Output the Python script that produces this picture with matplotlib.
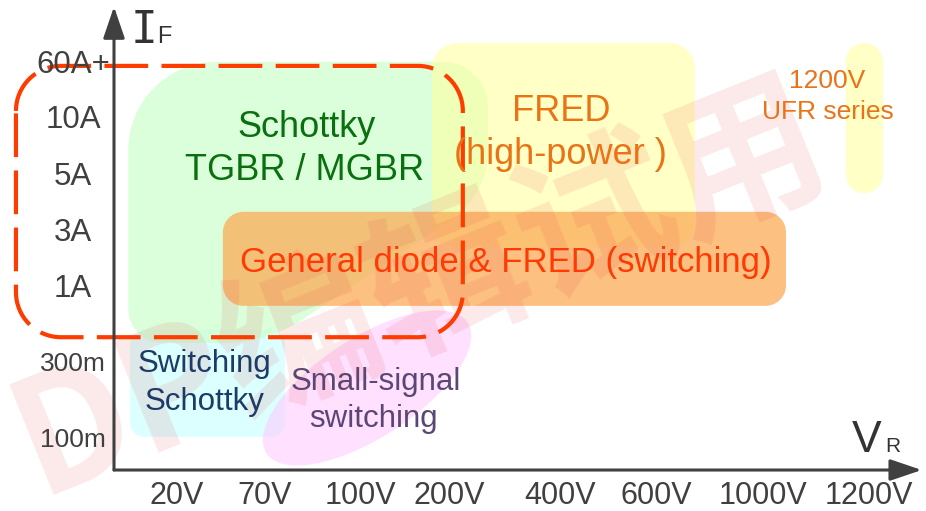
import numpy as np
import matplotlib
matplotlib.use('Agg')
import matplotlib.pyplot as plt
from matplotlib.path import Path
from matplotlib.patches import PathPatch, Ellipse

# ----------------
# DATA
# ----------------

# reverse voltage categories (x axis) and forward current categories (y axis)
vr_labels = ['20V', '70V', '100V', '200V', '400V', '600V', '1000V', '1200V']
vr_pos = [1.10, 2.64, 4.32, 5.88, 7.82, 9.52, 11.39, 13.25]
if_labels = ['100m', '300m', '1A', '3A', '5A', '10A', '60A+']
if_pos = [0.41, 1.74, 3.03, 4.02, 5.0, 6.0, 6.97]

# product regions, as (x0, x1, y0, y1) in axis units
sw_schottky_box = (0.28, 3.0, 0.58, 2.46)
fred_hp_box = (5.58, 10.19, 3.91, 7.49)
ufr_box = (12.84, 13.49, 4.86, 7.49)
general_box = (1.91, 11.79, 2.88, 4.53)
focus_box = (-1.72, 6.12, 2.33, 7.09)
# schottky blob outline (corners) and corner radii
schottky_pts = [(0.25, 7.16), (6.56, 7.16), (6.56, 4.83), (2.70, 2.23), (0.25, 2.23)]
schottky_r = [1.55, 0.79, 0.70, 0.70, 0.60]
# small-signal ellipse: centre, width, height, angle
small_sig = ((4.44, 1.44), 4.21, 1.75, 33)

AX = '#404040'


def rounded_path(pts, radii):
    k = 0.5523
    verts, codes = [], []
    n = len(pts)
    for i in range(n):
        p = np.array(pts[i], float)
        prev = np.array(pts[i - 1], float)
        nxt = np.array(pts[(i + 1) % n], float)
        d1 = prev - p
        d2 = nxt - p
        l1, l2 = np.hypot(*d1), np.hypot(*d2)
        r = min(radii[i], l1 / 2, l2 / 2)
        a = p + d1 / l1 * r
        b = p + d2 / l2 * r
        verts.append(a)
        codes.append(Path.MOVETO if i == 0 else Path.LINETO)
        verts += [a + (p - a) * k, b + (p - b) * k, b]
        codes += [Path.CURVE4] * 3
    verts.append(verts[0])
    codes.append(Path.CLOSEPOLY)
    return Path(verts, codes)


def box_path(box, r):
    x0, x1, y0, y1 = box
    return rounded_path([(x0, y1), (x1, y1), (x1, y0), (x0, y0)], [r] * 4)


fig = plt.figure(figsize=(9.26, 5.11), dpi=100)
ax = fig.add_axes([0, 0, 1, 1])
ax.set_xlim(-2.0, 14.246)
ax.set_ylim(-0.719, 8.246)
ax.axis('off')

# regions
ax.add_patch(PathPatch(box_path(sw_schottky_box, 0.26), fc='#dcffff', ec='none', zorder=1))
ax.add_patch(PathPatch(rounded_path(schottky_pts, schottky_r), fc='#ccffcc', alpha=0.7,
                       ec='none', zorder=1.2))
ax.add_patch(Ellipse(small_sig[0], small_sig[1], small_sig[2], angle=small_sig[3],
                     fc='#ffccff', alpha=0.6, ec='none', zorder=1.3))
ax.add_patch(PathPatch(box_path(fred_hp_box, 0.44), fc='#ffffa0', alpha=0.6, ec='none', zorder=1.4))
ax.add_patch(PathPatch(box_path(ufr_box, 0.32), fc='#ffffa0', alpha=0.6, ec='none', zorder=1.4))
ax.add_patch(PathPatch(box_path(general_box, 0.36), fc='#fbab56', alpha=0.75, ec='none', zorder=1.5))

# watermark
ax.text(5.37, 3.16, 'DP编辑试用', rotation=22, rotation_mode='anchor', fontsize=115,
        fontweight='bold', family=['Noto Sans CJK SC', 'DejaVu Sans'], color='#e85050',
        alpha=0.13, ha='center', va='center', zorder=2)

# dashed focus frame
ax.add_patch(PathPatch(box_path(focus_box, 0.79), fc='none', ec='#ff3c00', lw=3,
                       linestyle=(0, (10.5, 3.2)), zorder=3))

# axes with arrows
arrow = dict(arrowstyle='-|>,head_length=0.97,head_width=0.33', mutation_scale=20,
             lw=2.2, color=AX, shrinkA=0, shrinkB=0)
ax.annotate('', xy=(0, 8.13), xytext=(0, 0), arrowprops=arrow, zorder=4)
ax.annotate('', xy=(14.17, 0), xytext=(0, 0), arrowprops=arrow, zorder=4)

ax.text(0.53, 7.49, 'I', fontsize=32, family='DejaVu Sans Mono', color='#333333',
        ha='center', va='baseline')
ax.text(0.88, 7.49, 'F', fontsize=17, family='Liberation Sans', color='#333333',
        ha='center', va='baseline')
ax.text(13.21, 0.316, 'V', fontsize=32, family='Liberation Sans', color='#333333',
        ha='center', va='baseline')
ax.text(13.66, 0.316, 'R', fontsize=15, family='Liberation Sans', color='#333333',
        ha='center', va='baseline')

# tick labels
for lab, x in zip(vr_labels, vr_pos):
    ax.text(x, -0.596, lab, fontsize=22, family='Liberation Sans', color=AX,
            ha='center', va='baseline')
for lab, y in zip(if_labels, if_pos):
    fs = 19 if lab.endswith('m') else 22.5
    ax.text(-0.72, y, lab, fontsize=fs, family='Liberation Sans', color=AX,
            ha='center', va='baseline')


# region labels
def label(x, y, s, fs, c):
    ax.text(x, y, s, fontsize=fs, family='Liberation Sans', color=c,
            ha='center', va='baseline', zorder=5)


label(3.386, 5.842, 'Schottky', 26, '#0a700f')
label(3.351, 5.088, 'TGBR / MGBR', 26, '#0a700f')
label(7.85, 6.123, 'FRED', 26, '#ea7317')
label(7.84, 5.368, '(high-power )', 26, '#ea7317')
label(12.52, 6.702, '1200V', 19, '#ea7317')
label(12.52, 6.158, 'UFR series', 19, '#ea7317')
label(6.868, 3.474, 'General diode & FRED (switching)', 25, '#ff3a05')
label(1.596, 1.725, 'Switching', 22.5, '#1e3a66')
label(1.596, 1.053, 'Schottky', 22.5, '#1e3a66')
label(4.596, 1.404, 'Small-signal', 22.5, '#5b4775')
label(4.56, 0.759, 'switching', 22.5, '#5b4775')

fig.savefig('out.png', dpi=100)
plt.close(fig)
